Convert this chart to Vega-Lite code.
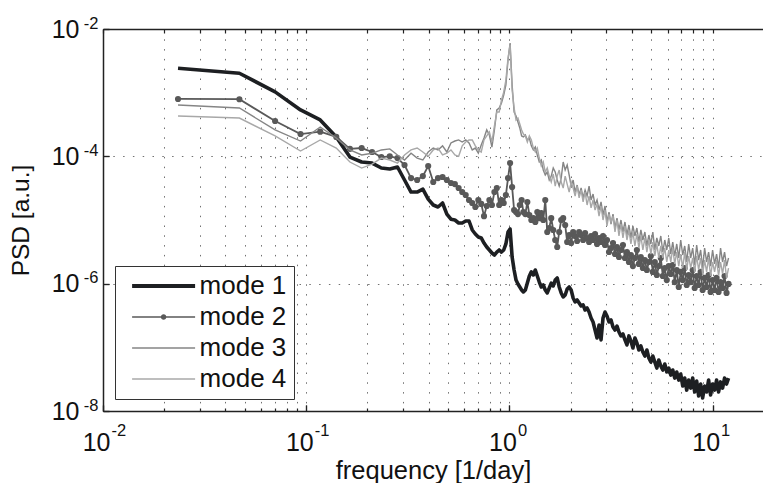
{
"$schema": "https://vega.github.io/schema/vega-lite/v6.json",
"width": 660,
"height": 382,
"autosize": {"type": "none"},
"padding": {"left": 103, "top": 29, "right": 0, "bottom": 72},
"background": "white",
"config": {"view": {"stroke": null}, "font": "Liberation Sans"},
"datasets": {
"m1": [{"f":0.0234,"p":2.42e-3},{"f":0.0469,"p":2.02e-3},{"f":0.0703,"p":1.03e-3},{"f":0.0938,"p":5.35e-4},{"f":0.1172,"p":3.73e-4},{"f":0.1406,"p":2.02e-4},{"f":0.1641,"p":9.75e-5},{"f":0.1875,"p":8.14e-5},{"f":0.2109,"p":7.84e-5},{"f":0.2344,"p":6.55e-5},
{"f":0.2578,"p":6.32e-5},{"f":0.2813,"p":6.8e-5},{"f":0.3047,"p":4.25e-5},{"f":0.3281,"p":2.75e-5},{"f":0.3516,"p":2.75e-5},{"f":0.375,"p":3.06e-5},{"f":0.3984,"p":2.13e-5},{"f":0.4219,"p":1.72e-5},{"f":0.4453,"p":1.6e-5},{"f":0.4688,"p":1.85e-5},
{"f":0.4922,"p":1.24e-5},{"f":0.5156,"p":1.03e-5},{"f":0.5391,"p":1.0e-5},{"f":0.5625,"p":8.97e-6},{"f":0.5859,"p":8.97e-6},{"f":0.6094,"p":9.64e-6},{"f":0.6328,"p":9.64e-6},{"f":0.6563,"p":6.97e-6},{"f":0.6797,"p":6.03e-6},{"f":0.7031,"p":5.41e-6},
{"f":0.7266,"p":5.22e-6},{"f":0.75,"p":4.35e-6},{"f":0.7734,"p":3.77e-6},{"f":0.7969,"p":3.38e-6},{"f":0.8203,"p":3.03e-6},{"f":0.8438,"p":2.82e-6},{"f":0.8672,"p":3.14e-6},{"f":0.8906,"p":3.38e-6},{"f":0.9141,"p":3.14e-6},{"f":0.9375,"p":3.38e-6},
{"f":0.9609,"p":4.2e-6},{"f":0.9844,"p":6.48e-6},{"f":1.0078,"p":7.22e-6},{"f":1.0313,"p":2.62e-6},{"f":1.0547,"p":1.64e-6},{"f":1.0781,"p":1.14e-6},{"f":1.1016,"p":9.9e-7},{"f":1.125,"p":8.87e-7},{"f":1.1484,"p":7.96e-7},{"f":1.1719,"p":7.41e-7},
{"f":1.198,"p":7.96e-7},{"f":1.2254,"p":1.02e-6},{"f":1.2534,"p":1.32e-6},{"f":1.282,"p":1.53e-6},{"f":1.3113,"p":1.37e-6},{"f":1.3412,"p":1.64e-6},{"f":1.3718,"p":1.32e-6},{"f":1.4031,"p":1.06e-6},{"f":1.4351,"p":8.87e-7},{"f":1.4678,"p":9.54e-7},
{"f":1.5013,"p":7.96e-7},{"f":1.5356,"p":7.15e-7},{"f":1.5706,"p":8.56e-7},{"f":1.6065,"p":1.02e-6},{"f":1.6431,"p":9.2e-7},{"f":1.6806,"p":1.14e-6},{"f":1.719,"p":1.23e-6},{"f":1.7582,"p":8.87e-7},{"f":1.7983,"p":7.15e-7},{"f":1.8394,"p":6.18e-7},
{"f":1.8813,"p":6.65e-7},{"f":1.9243,"p":8.26e-7},{"f":1.9682,"p":8.87e-7},{"f":2.0131,"p":7.96e-7},{"f":2.059,"p":5.96e-7},{"f":2.106,"p":5.16e-7},{"f":2.1544,"p":5.55e-7},{"f":2.2035,"p":4.98e-7},{"f":2.2538,"p":4.47e-7},{"f":2.3052,"p":4.63e-7},
{"f":2.3578,"p":3.86e-7},{"f":2.4116,"p":4.15e-7},{"f":2.4666,"p":3.59e-7},{"f":2.5229,"p":2.89e-7},{"f":2.5805,"p":2.5e-7},{"f":2.6394,"p":1.87e-7},{"f":2.6996,"p":1.4e-7},{"f":2.7612,"p":2.24e-7},{"f":2.8242,"p":1.31e-7},{"f":2.8886,"p":2.89e-7},
{"f":2.9545,"p":3.59e-7},{"f":3.022,"p":3.11e-7},{"f":3.0909,"p":2.5e-7},{"f":3.1623,"p":2.69e-7},{"f":3.2344,"p":2.09e-7},{"f":3.3082,"p":1.87e-7},{"f":3.3837,"p":2.16e-7},{"f":3.4609,"p":1.74e-7},{"f":3.5399,"p":1.51e-7},{"f":3.6206,"p":1.62e-7},
{"f":3.7033,"p":1.31e-7},{"f":3.7878,"p":1.09e-7},{"f":3.8742,"p":1.51e-7},{"f":3.9626,"p":1.26e-7},{"f":4.053,"p":9.75e-8},{"f":4.1455,"p":1.4e-7},{"f":4.2401,"p":1.17e-7},{"f":4.3368,"p":9.07e-8},{"f":4.4358,"p":1.05e-7},{"f":4.537,"p":8.44e-8},
{"f":4.6416,"p":7.3e-8},{"f":4.7475,"p":9.07e-8},{"f":4.8558,"p":6.8e-8},{"f":4.9666,"p":5.87e-8},{"f":5.08,"p":7.3e-8},{"f":5.1959,"p":5.87e-8},{"f":5.3144,"p":4.73e-8},{"f":5.4357,"p":6.32e-8},{"f":5.5597,"p":5.09e-8},{"f":5.6866,"p":4.4e-8},
{"f":5.8163,"p":5.47e-8},{"f":5.949,"p":4.1e-8},{"f":6.0848,"p":4.73e-8},{"f":6.2236,"p":3.67e-8},{"f":6.3656,"p":4.4e-8},{"f":6.5109,"p":3.29e-8},{"f":6.6594,"p":4.1e-8},{"f":6.8129,"p":3.06e-8},{"f":6.9684,"p":3.81e-8},{"f":7.1274,"p":2.47e-8},
{"f":7.29,"p":3.29e-8},{"f":7.4563,"p":2.13e-8},{"f":7.6265,"p":3.06e-8},{"f":7.8005,"p":2.29e-8},{"f":7.9785,"p":3.29e-8},{"f":8.1605,"p":1.99e-8},{"f":8.3467,"p":2.96e-8},{"f":8.5371,"p":1.72e-8},{"f":8.7319,"p":2.65e-8},{"f":8.9312,"p":1.6e-8},
{"f":9.1349,"p":2.47e-8},{"f":9.3434,"p":1.99e-8},{"f":9.5566,"p":3.06e-8},{"f":9.7746,"p":1.79e-8},{"f":10.0,"p":2.65e-8},{"f":10.228,"p":2.13e-8},{"f":10.462,"p":3.06e-8},{"f":10.7,"p":1.99e-8},{"f":10.945,"p":2.86e-8},{"f":11.194,"p":2.29e-8},
{"f":11.45,"p":3.29e-8},{"f":11.711,"p":2.65e-8},{"f":11.978,"p":3.29e-8}],
"m2": [{"f":0.0234,"p":7.96e-4},{"f":0.0469,"p":7.89e-4},{"f":0.0703,"p":3.59e-4},{"f":0.0938,"p":2.24e-4},{"f":0.1172,"p":2.44e-4},{"f":0.1406,"p":2.02e-4},{"f":0.1641,"p":1.31e-4},{"f":0.1875,"p":1.35e-4},{"f":0.2109,"p":1.17e-4},{"f":0.2344,"p":9.75e-5},
{"f":0.2578,"p":1.0e-4},{"f":0.2813,"p":9.4e-5},{"f":0.3047,"p":7.3e-5},{"f":0.3281,"p":4.56e-5},{"f":0.3516,"p":4.25e-5},{"f":0.375,"p":4.9e-5},{"f":0.3984,"p":7.04e-5},{"f":0.4219,"p":3.95e-5},{"f":0.4453,"p":4.56e-5},{"f":0.4688,"p":4.73e-5},
{"f":0.4922,"p":4.25e-5},{"f":0.5156,"p":3.81e-5},{"f":0.5391,"p":3.67e-5},{"f":0.5625,"p":3.18e-5},{"f":0.5859,"p":2.75e-5},{"f":0.6094,"p":2.47e-5},{"f":0.6328,"p":2.06e-5},{"f":0.6563,"p":1.85e-5},{"f":0.6797,"p":1.6e-5},{"f":0.7031,"p":2.06e-5},
{"f":0.7266,"p":1.79e-5},{"f":0.75,"p":1.15e-5},{"f":0.7734,"p":1.66e-5},{"f":0.7969,"p":2.06e-5},{"f":0.8203,"p":1.72e-5},{"f":0.8438,"p":2.75e-5},{"f":0.8672,"p":3.18e-5},{"f":0.8906,"p":1.72e-5},{"f":0.9141,"p":2.06e-5},{"f":0.9375,"p":1.85e-5},
{"f":0.9609,"p":2.47e-5},{"f":0.9844,"p":4.56e-5},{"f":1.0078,"p":7.84e-5},{"f":1.0313,"p":3.29e-5},{"f":1.0547,"p":1.43e-5},{"f":1.0781,"p":1.33e-5},{"f":1.1016,"p":1.24e-5},{"f":1.125,"p":1.72e-5},{"f":1.1484,"p":2.06e-5},{"f":1.1719,"p":1.33e-5},
{"f":1.198,"p":1.24e-5},{"f":1.2254,"p":1.92e-5},{"f":1.2534,"p":1.2e-5},{"f":1.282,"p":1.0e-5},{"f":1.3113,"p":1.07e-5},{"f":1.3412,"p":9.3e-6},{"f":1.3718,"p":1.33e-5},{"f":1.4031,"p":1.07e-5},{"f":1.4351,"p":1.29e-5},{"f":1.4678,"p":1.0e-5},
{"f":1.5013,"p":2.06e-5},{"f":1.5356,"p":6.48e-6},{"f":1.5706,"p":7.49e-6},{"f":1.6065,"p":1.07e-5},{"f":1.6431,"p":6.97e-6},{"f":1.6806,"p":4.85e-6},{"f":1.719,"p":3.77e-6},{"f":1.7582,"p":6.48e-6},{"f":1.7983,"p":1.0e-5},{"f":1.8394,"p":1.07e-5},
{"f":1.8813,"p":8.35e-6},{"f":1.9243,"p":4.51e-6},{"f":1.9682,"p":5.81e-6},{"f":2.0131,"p":4.35e-6},{"f":2.059,"p":6.48e-6},{"f":2.106,"p":5.61e-6},{"f":2.1544,"p":4.68e-6},{"f":2.2035,"p":6.48e-6},{"f":2.2538,"p":5.81e-6},{"f":2.3052,"p":4.85e-6},
{"f":2.3578,"p":6.25e-6},{"f":2.4116,"p":5.22e-6},{"f":2.4666,"p":4.51e-6},{"f":2.5229,"p":5.61e-6},{"f":2.5805,"p":4.85e-6},{"f":2.6394,"p":6.03e-6},{"f":2.6996,"p":4.2e-6},{"f":2.7612,"p":5.22e-6},{"f":2.8242,"p":4.51e-6},{"f":2.8886,"p":5.61e-6},
{"f":2.9545,"p":4.05e-6},{"f":3.022,"p":4.85e-6},{"f":3.0909,"p":3.14e-6},{"f":3.1623,"p":3.63e-6},{"f":3.2344,"p":4.35e-6},{"f":3.3082,"p":2.92e-6},{"f":3.3837,"p":3.77e-6},{"f":3.4609,"p":2.62e-6},{"f":3.5399,"p":3.38e-6},{"f":3.6206,"p":4.05e-6},
{"f":3.7033,"p":2.53e-6},{"f":3.7878,"p":3.14e-6},{"f":3.8742,"p":2.19e-6},{"f":3.9626,"p":2.82e-6},{"f":4.053,"p":1.89e-6},{"f":4.1455,"p":2.53e-6},{"f":4.2401,"p":3.38e-6},{"f":4.3368,"p":2.04e-6},{"f":4.4358,"p":2.62e-6},{"f":4.537,"p":1.76e-6},
{"f":4.6416,"p":2.35e-6},{"f":4.7475,"p":1.64e-6},{"f":4.8558,"p":2.19e-6},{"f":4.9666,"p":2.72e-6},{"f":5.08,"p":1.53e-6},{"f":5.1959,"p":2.19e-6},{"f":5.3144,"p":1.37e-6},{"f":5.4357,"p":1.89e-6},{"f":5.5597,"p":2.53e-6},{"f":5.6866,"p":1.32e-6},
{"f":5.8163,"p":1.76e-6},{"f":5.949,"p":1.14e-6},{"f":6.0848,"p":1.89e-6},{"f":6.2236,"p":1.42e-6},{"f":6.3656,"p":1.96e-6},{"f":6.5109,"p":1.06e-6},{"f":6.6594,"p":1.64e-6},{"f":6.8129,"p":8.87e-7},{"f":6.9684,"p":1.53e-6},{"f":7.1274,"p":1.14e-6},
{"f":7.29,"p":1.76e-6},{"f":7.4563,"p":9.54e-7},{"f":7.6265,"p":1.37e-6},{"f":7.8005,"p":1.06e-6},{"f":7.9785,"p":1.64e-6},{"f":8.1605,"p":8.56e-7},{"f":8.3467,"p":1.32e-6},{"f":8.5371,"p":9.54e-7},{"f":8.7319,"p":1.53e-6},{"f":8.9312,"p":7.96e-7},
{"f":9.1349,"p":1.23e-6},{"f":9.3434,"p":8.87e-7},{"f":9.5566,"p":1.37e-6},{"f":9.7746,"p":7.41e-7},{"f":10.0,"p":1.14e-6},{"f":10.228,"p":7.96e-7},{"f":10.462,"p":1.23e-6},{"f":10.7,"p":7.41e-7},{"f":10.945,"p":1.06e-6},{"f":11.194,"p":8.56e-7},
{"f":11.45,"p":1.32e-6},{"f":11.711,"p":7.15e-7},{"f":11.978,"p":9.9e-7}],
"m3": [{"f":0.0234,"p":6.4e-4},{"f":0.0469,"p":5.75e-4},{"f":0.0703,"p":2.6e-4},{"f":0.0938,"p":1.74e-4},{"f":0.1172,"p":2.89e-4},{"f":0.1406,"p":1.94e-4},{"f":0.1641,"p":1.26e-4},{"f":0.1875,"p":1.05e-4},{"f":0.2109,"p":1.12e-4},{"f":0.2344,"p":1.26e-4},
{"f":0.2578,"p":1.31e-4},{"f":0.2813,"p":1.05e-4},{"f":0.3047,"p":8.75e-5},{"f":0.3281,"p":1.12e-4},{"f":0.3516,"p":9.4e-5},{"f":0.375,"p":8.75e-5},{"f":0.3984,"p":1.17e-4},{"f":0.4219,"p":1.35e-4},{"f":0.4453,"p":1.26e-4},{"f":0.4688,"p":1.46e-4},
{"f":0.4922,"p":1.17e-4},{"f":0.5156,"p":1.62e-4},{"f":0.5391,"p":1.74e-4},{"f":0.5625,"p":1.81e-4},{"f":0.5859,"p":1.68e-4},{"f":0.6094,"p":1.81e-4},{"f":0.6328,"p":1.62e-4},{"f":0.6563,"p":1.26e-4},{"f":0.6797,"p":1.35e-4},{"f":0.7031,"p":1.12e-4},
{"f":0.7266,"p":1.51e-4},{"f":0.75,"p":1.94e-4},{"f":0.7734,"p":2.6e-4},{"f":0.7969,"p":2.16e-4},{"f":0.8203,"p":1.4e-4},{"f":0.8438,"p":2.6e-4},{"f":0.8672,"p":5.35e-4},{"f":0.8906,"p":5.75e-4},{"f":0.9141,"p":6.9e-4},{"f":0.9375,"p":9.2e-4},
{"f":0.9609,"p":1.32e-3},{"f":0.9844,"p":3.26e-3},{"f":1.0078,"p":6.03e-3},{"f":1.0313,"p":1.32e-3},{"f":1.0547,"p":4.98e-4},{"f":1.0781,"p":4.3e-4},{"f":1.1016,"p":3.46e-4},{"f":1.125,"p":2.79e-4},{"f":1.1484,"p":2.09e-4},{"f":1.1719,"p":2.02e-4},
{"f":1.198,"p":2.16e-4},{"f":1.2254,"p":1.81e-4},{"f":1.2534,"p":1.94e-4},{"f":1.282,"p":1.46e-4},{"f":1.3113,"p":1.26e-4},{"f":1.3412,"p":1.4e-4},{"f":1.3718,"p":1.05e-4},{"f":1.4031,"p":8.14e-5},{"f":1.4351,"p":8.75e-5},{"f":1.4678,"p":6.1e-5},
{"f":1.5013,"p":5.09e-5},{"f":1.5356,"p":5.67e-5},{"f":1.5706,"p":4.25e-5},{"f":1.6065,"p":4.9e-5},{"f":1.6431,"p":6.55e-5},{"f":1.6806,"p":5.67e-5},{"f":1.719,"p":4.25e-5},{"f":1.7582,"p":3.41e-5},{"f":1.7983,"p":4.56e-5},{"f":1.8394,"p":8.14e-5},
{"f":1.8813,"p":6.1e-5},{"f":1.9243,"p":7.3e-5},{"f":1.9682,"p":5.09e-5},{"f":2.0131,"p":3.41e-5},{"f":2.059,"p":4.25e-5},{"f":2.106,"p":2.75e-5},{"f":2.1544,"p":3.54e-5},{"f":2.2035,"p":2.47e-5},{"f":2.2538,"p":3.18e-5},{"f":2.3052,"p":2.22e-5},
{"f":2.3578,"p":2.96e-5},{"f":2.4116,"p":2.38e-5},{"f":2.4666,"p":3.41e-5},{"f":2.5229,"p":2.06e-5},{"f":2.5805,"p":2.56e-5},{"f":2.6394,"p":1.72e-5},{"f":2.6996,"p":2.06e-5},{"f":2.7612,"p":1.43e-5},{"f":2.8242,"p":1.92e-5},{"f":2.8886,"p":1.2e-5},
{"f":2.9545,"p":1.66e-5},{"f":3.022,"p":9.3e-6},{"f":3.0909,"p":1.33e-5},{"f":3.1623,"p":8.65e-6},{"f":3.2344,"p":1.24e-5},{"f":3.3082,"p":7.49e-6},{"f":3.3837,"p":1.07e-5},{"f":3.4609,"p":6.97e-6},{"f":3.5399,"p":1.0e-5},{"f":3.6206,"p":6.48e-6},
{"f":3.7033,"p":9.3e-6},{"f":3.7878,"p":5.81e-6},{"f":3.8742,"p":8.35e-6},{"f":3.9626,"p":5.22e-6},{"f":4.053,"p":8.05e-6},{"f":4.1455,"p":5.61e-6},{"f":4.2401,"p":7.49e-6},{"f":4.3368,"p":4.51e-6},{"f":4.4358,"p":6.97e-6},{"f":4.537,"p":4.85e-6},
{"f":4.6416,"p":6.48e-6},{"f":4.7475,"p":3.91e-6},{"f":4.8558,"p":5.81e-6},{"f":4.9666,"p":4.2e-6},{"f":5.08,"p":6.48e-6},{"f":5.1959,"p":3.38e-6},{"f":5.3144,"p":5.22e-6},{"f":5.4357,"p":3.91e-6},{"f":5.5597,"p":5.61e-6},{"f":5.6866,"p":3.14e-6},
{"f":5.8163,"p":4.85e-6},{"f":5.949,"p":3.38e-6},{"f":6.0848,"p":5.22e-6},{"f":6.2236,"p":2.92e-6},{"f":6.3656,"p":4.51e-6},{"f":6.5109,"p":2.72e-6},{"f":6.6594,"p":4.2e-6},{"f":6.8129,"p":2.53e-6},{"f":6.9684,"p":4.85e-6},{"f":7.1274,"p":2.82e-6},
{"f":7.29,"p":3.91e-6},{"f":7.4563,"p":2.19e-6},{"f":7.6265,"p":4.2e-6},{"f":7.8005,"p":2.53e-6},{"f":7.9785,"p":3.63e-6},{"f":8.1605,"p":1.96e-6},{"f":8.3467,"p":4.05e-6},{"f":8.5371,"p":2.35e-6},{"f":8.7319,"p":3.38e-6},{"f":8.9312,"p":1.76e-6},
{"f":9.1349,"p":3.63e-6},{"f":9.3434,"p":2.19e-6},{"f":9.5566,"p":3.14e-6},{"f":9.7746,"p":1.89e-6},{"f":10.0,"p":3.38e-6},{"f":10.228,"p":2.04e-6},{"f":10.462,"p":2.92e-6},{"f":10.7,"p":1.76e-6},{"f":10.945,"p":3.63e-6},{"f":11.194,"p":2.19e-6},
{"f":11.45,"p":3.14e-6},{"f":11.711,"p":1.89e-6},{"f":11.978,"p":2.53e-6}],
"m4": [{"f":0.0234,"p":4.3e-4},{"f":0.0469,"p":4.0e-4},{"f":0.0703,"p":2.09e-4},{"f":0.0938,"p":1.21e-4},{"f":0.1172,"p":1.81e-4},{"f":0.1406,"p":1.35e-4},{"f":0.1641,"p":8.14e-5},{"f":0.1875,"p":6.55e-5},{"f":0.2109,"p":7.57e-5},{"f":0.2344,"p":9.4e-5},
{"f":0.2578,"p":8.75e-5},{"f":0.2813,"p":7.84e-5},{"f":0.3047,"p":1.05e-4},{"f":0.3281,"p":1.26e-4},{"f":0.3516,"p":1.35e-4},{"f":0.375,"p":1.17e-4},{"f":0.3984,"p":1.0e-4},{"f":0.4219,"p":1.26e-4},{"f":0.4453,"p":1.35e-4},{"f":0.4688,"p":1.05e-4},
{"f":0.4922,"p":1.12e-4},{"f":0.5156,"p":1.26e-4},{"f":0.5391,"p":1.05e-4},{"f":0.5625,"p":1.0e-4},{"f":0.5859,"p":1.46e-4},{"f":0.6094,"p":1.68e-4},{"f":0.6328,"p":1.81e-4},{"f":0.6563,"p":1.81e-4},{"f":0.6797,"p":1.46e-4},{"f":0.7031,"p":1.26e-4},
{"f":0.7266,"p":1.17e-4},{"f":0.75,"p":1.81e-4},{"f":0.7734,"p":2.09e-4},{"f":0.7969,"p":2.42e-4},{"f":0.8203,"p":1.68e-4},{"f":0.8438,"p":3.0e-4},{"f":0.8672,"p":4.98e-4},{"f":0.8906,"p":4.98e-4},{"f":0.9141,"p":7.67e-4},{"f":0.9375,"p":1.02e-3},
{"f":0.9609,"p":1.58e-3},{"f":0.9844,"p":3.5e-3},{"f":1.0078,"p":5.61e-3},{"f":1.0313,"p":1.1e-3},{"f":1.0547,"p":5.75e-4},{"f":1.0781,"p":3.73e-4},{"f":1.1016,"p":4.0e-4},{"f":1.125,"p":3.22e-4},{"f":1.1484,"p":2.6e-4},{"f":1.1719,"p":2.24e-4},
{"f":1.198,"p":2.09e-4},{"f":1.2254,"p":1.68e-4},{"f":1.2534,"p":2.09e-4},{"f":1.282,"p":1.81e-4},{"f":1.3113,"p":1.35e-4},{"f":1.3412,"p":1.17e-4},{"f":1.3718,"p":1.35e-4},{"f":1.4031,"p":9.4e-5},{"f":1.4351,"p":7.04e-5},{"f":1.4678,"p":8.14e-5},
{"f":1.5013,"p":5.67e-5},{"f":1.5356,"p":6.55e-5},{"f":1.5706,"p":4.9e-5},{"f":1.6065,"p":3.95e-5},{"f":1.6431,"p":5.28e-5},{"f":1.6806,"p":3.41e-5},{"f":1.719,"p":4.9e-5},{"f":1.7582,"p":6.1e-5},{"f":1.7983,"p":3.95e-5},{"f":1.8394,"p":3.18e-5},
{"f":1.8813,"p":4.9e-5},{"f":1.9243,"p":3.67e-5},{"f":1.9682,"p":2.75e-5},{"f":2.0131,"p":3.95e-5},{"f":2.059,"p":3.18e-5},{"f":2.106,"p":2.38e-5},{"f":2.1544,"p":3.41e-5},{"f":2.2035,"p":2.22e-5},{"f":2.2538,"p":2.96e-5},{"f":2.3052,"p":1.92e-5},
{"f":2.3578,"p":2.75e-5},{"f":2.4116,"p":1.72e-5},{"f":2.4666,"p":2.38e-5},{"f":2.5229,"p":1.55e-5},{"f":2.5805,"p":2.06e-5},{"f":2.6394,"p":1.43e-5},{"f":2.6996,"p":1.79e-5},{"f":2.7612,"p":1.15e-5},{"f":2.8242,"p":1.66e-5},{"f":2.8886,"p":1.0e-5},
{"f":2.9545,"p":1.43e-5},{"f":3.022,"p":8.05e-6},{"f":3.0909,"p":1.24e-5},{"f":3.1623,"p":9.3e-6},{"f":3.2344,"p":1.15e-5},{"f":3.3082,"p":6.48e-6},{"f":3.3837,"p":1.0e-5},{"f":3.4609,"p":5.61e-6},{"f":3.5399,"p":8.65e-6},{"f":3.6206,"p":5.22e-6},
{"f":3.7033,"p":8.05e-6},{"f":3.7878,"p":4.85e-6},{"f":3.8742,"p":6.97e-6},{"f":3.9626,"p":4.2e-6},{"f":4.053,"p":6.48e-6},{"f":4.1455,"p":3.91e-6},{"f":4.2401,"p":6.03e-6},{"f":4.3368,"p":3.63e-6},{"f":4.4358,"p":5.61e-6},{"f":4.537,"p":3.38e-6},
{"f":4.6416,"p":5.22e-6},{"f":4.7475,"p":3.14e-6},{"f":4.8558,"p":4.85e-6},{"f":4.9666,"p":2.92e-6},{"f":5.08,"p":4.51e-6},{"f":5.1959,"p":2.72e-6},{"f":5.3144,"p":4.2e-6},{"f":5.4357,"p":2.53e-6},{"f":5.5597,"p":3.91e-6},{"f":5.6866,"p":2.53e-6},
{"f":5.8163,"p":3.63e-6},{"f":5.949,"p":2.19e-6},{"f":6.0848,"p":3.38e-6},{"f":6.2236,"p":2.19e-6},{"f":6.3656,"p":3.63e-6},{"f":6.5109,"p":2.04e-6},{"f":6.6594,"p":3.14e-6},{"f":6.8129,"p":1.89e-6},{"f":6.9684,"p":2.92e-6},{"f":7.1274,"p":1.76e-6},
{"f":7.29,"p":3.14e-6},{"f":7.4563,"p":1.64e-6},{"f":7.6265,"p":2.72e-6},{"f":7.8005,"p":1.76e-6},{"f":7.9785,"p":2.53e-6},{"f":8.1605,"p":1.53e-6},{"f":8.3467,"p":2.72e-6},{"f":8.5371,"p":1.64e-6},{"f":8.7319,"p":2.53e-6},{"f":8.9312,"p":1.42e-6},
{"f":9.1349,"p":2.35e-6},{"f":9.3434,"p":1.53e-6},{"f":9.5566,"p":2.53e-6},{"f":9.7746,"p":1.32e-6},{"f":10.0,"p":2.19e-6},{"f":10.228,"p":1.53e-6},{"f":10.462,"p":2.35e-6},{"f":10.7,"p":1.32e-6},{"f":10.945,"p":2.19e-6},{"f":11.194,"p":1.42e-6},
{"f":11.45,"p":2.35e-6},{"f":11.711,"p":1.23e-6},{"f":11.978,"p":1.76e-6}]
},
"layer": [
{
"data": {"name": "m1"},
"mark": {"type": "line", "strokeWidth": 3.6, "strokeJoin": "round"},
"encoding": {
"x": {"field": "f", "type": "quantitative", "scale": {"type": "log", "domain": [0.01, 17.7], "nice": false},
"axis": {"orient": "bottom", "values": [0.01, 0.1, 1, 10], "labelExpr": "'10'", "labelAlign": "right", "labelOffset": 7,
"labelFont": "Liberation Sans", "labelFontSize": 25, "labelColor": "#111111", "labelPadding": 25, "labelFlush": false, "labelOverlap": false, "labelBound": false,
"title": "frequency [1/day]", "titleFont": "Liberation Sans", "titleFontSize": 25.5, "titleFontWeight": "normal", "titleColor": "#111111", "titlePadding": 3,
"grid": true, "gridColor": "#707070", "gridDash": [1.5, 8.3], "gridWidth": 1,
"ticks": true, "tickSize": -6, "tickColor": "#222222", "tickWidth": 1.2,
"domain": true, "domainColor": "#222222", "domainWidth": 1.5}},
"y": {"field": "p", "type": "quantitative", "scale": {"type": "log", "domain": [1e-8, 1e-2], "nice": false},
"axis": {"orient": "left", "values": [1e-8, 1e-6, 1e-4, 1e-2], "labelExpr": "'10'", "labelAlign": "right", "labelBaseline": "middle",
"labelFont": "Liberation Sans", "labelFontSize": 25, "labelColor": "#111111", "labelPadding": 30, "labelFlush": false, "labelOverlap": false, "labelBound": false,
"title": "PSD [a.u.]", "titleFont": "Liberation Sans", "titleFontSize": 24.5, "titleFontWeight": "normal", "titleColor": "#111111", "titlePadding": 18,
"grid": true, "gridColor": "#707070", "gridDash": [1.5, 8.3], "gridWidth": 1,
"ticks": true, "tickSize": -6, "tickColor": "#222222", "tickWidth": 1.2,
"domain": true, "domainColor": "#222222", "domainWidth": 1.5}},
"color": {"datum": "mode 1", "type": "nominal",
"scale": {"domain": ["mode 1", "mode 2", "mode 3", "mode 4"], "range": ["#1d1f22", "#595959", "#858585", "#a8a8a8"]},
"legend": {"title": null, "orient": "bottom-left", "offset": 12, "padding": 7,
"fillColor": "white", "strokeColor": "#333333",
"symbolType": {"expr": "(datum.value === 'mode 2' ? 'M-4,0L4,0M-0.25,0A0.25,0.25 0 1,0 0.25,0A0.25,0.25 0 1,0 -0.25,0M-0.1,0A0.1,0.1 0 1,0 0.1,0A0.1,0.1 0 1,0 -0.1,0' : 'M-4,0L4,0')"},
"symbolSize": 248, "symbolOffset": 28.6,
"symbolStrokeWidth": {"expr": "(datum.value === 'mode 1' ? 4 : 1.6)"},
"labelOffset": 23, "labelFont": "Liberation Sans", "labelFontSize": 26, "labelColor": "#111111", "rowPadding": 5}}
}
},
{
"data": {"name": "m2"},
"mark": {"type": "line", "strokeWidth": 1.8},
"encoding": {
"x": {"field": "f", "type": "quantitative", "scale": {"type": "log", "domain": [0.01, 17.7], "nice": false},
"axis": {"orient": "bottom", "values": [0.02,0.03,0.04,0.05,0.06,0.07,0.08,0.09,0.2,0.3,0.4,0.5,0.6,0.7,0.8,0.9,2,3,4,5,6,7,8,9],
"labels": false, "title": null, "grid": true, "gridColor": "#707070", "gridDash": [1.5, 8.3], "gridWidth": 1,
"ticks": true, "tickSize": -3, "tickColor": "#222222", "tickWidth": 1.2, "domain": false}},
"y": {"field": "p", "type": "quantitative", "scale": {"type": "log", "domain": [1e-8, 1e-2], "nice": false}, "axis": null},
"color": {"datum": "mode 2", "type": "nominal"}
}
},
{
"data": {"name": "m2"},
"mark": {"type": "circle", "size": 38, "opacity": 1},
"encoding": {
"x": {"field": "f", "type": "quantitative", "scale": {"type": "log", "domain": [0.01, 17.7], "nice": false},
"axis": {"orient": "bottom", "values": [0.01, 0.1, 1, 10],
"labelExpr": "datum.value < 0.05 ? '-2' : datum.value < 0.5 ? '-1' : datum.value < 5 ? '0' : '1'",
"labelAlign": "left", "labelOffset": 8,
"labelFont": "Liberation Sans", "labelFontSize": 16.5, "labelColor": "#111111", "labelPadding": 17, "labelFlush": false, "labelOverlap": false, "labelBound": false,
"title": null, "grid": false, "ticks": true, "tickSize": -6, "tickColor": "#222222", "tickWidth": 1.2, "domain": false}},
"y": {"field": "p", "type": "quantitative", "scale": {"type": "log", "domain": [1e-8, 1e-2], "nice": false},
"axis": {"orient": "left", "values": [1e-8, 1e-6, 1e-4, 1e-2],
"labelExpr": "datum.value < 5e-8 ? '-8' : datum.value < 5e-6 ? '-6' : datum.value < 5e-4 ? '-4' : '-2'",
"labelAlign": "right", "labelBaseline": "middle", "labelOffset": -6,
"labelFont": "Liberation Sans", "labelFontSize": 16.5, "labelColor": "#111111", "labelPadding": 11, "labelFlush": false, "labelOverlap": false, "labelBound": false,
"title": null, "grid": false, "ticks": true, "tickSize": -6, "tickColor": "#222222", "tickWidth": 1.2, "domain": false}},
"color": {"datum": "mode 2", "type": "nominal"}
}
},
{
"data": {"name": "m3"},
"mark": {"type": "line", "strokeWidth": 1.4},
"encoding": {
"x": {"field": "f", "type": "quantitative", "scale": {"type": "log", "domain": [0.01, 17.7], "nice": false},
"axis": {"orient": "top", "values": [0.01,0.02,0.03,0.04,0.05,0.06,0.07,0.08,0.09,0.1,0.2,0.3,0.4,0.5,0.6,0.7,0.8,0.9,1,2,3,4,5,6,7,8,9,10],
"labels": false, "title": null, "grid": false,
"ticks": true, "tickSize": -4, "tickColor": "#222222", "tickWidth": 1.2, "domain": true, "domainColor": "#222222", "domainWidth": 1.5}},
"y": {"field": "p", "type": "quantitative", "scale": {"type": "log", "domain": [1e-8, 1e-2], "nice": false}, "axis": null},
"color": {"datum": "mode 3", "type": "nominal"}
}
},
{
"data": {"name": "m4"},
"mark": {"type": "line", "strokeWidth": 1.4},
"encoding": {
"x": {"field": "f", "type": "quantitative", "scale": {"type": "log", "domain": [0.01, 17.7], "nice": false}, "axis": null},
"y": {"field": "p", "type": "quantitative", "scale": {"type": "log", "domain": [1e-8, 1e-2], "nice": false}, "axis": null},
"color": {"datum": "mode 4", "type": "nominal"}
}
}
],
"resolve": {"axis": {"x": "independent", "y": "independent"}}
}
